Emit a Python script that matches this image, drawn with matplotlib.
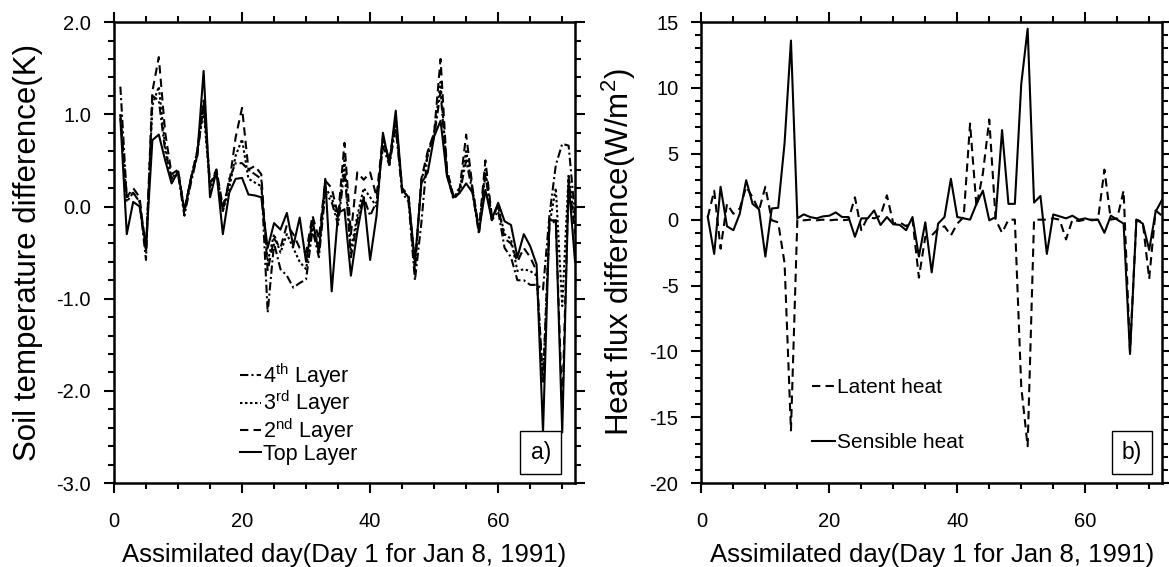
import numpy as np
import matplotlib
matplotlib.use("Agg")
import matplotlib.pyplot as plt
from matplotlib.ticker import MultipleLocator, FormatStrFormatter

plt.rcParams['font.family'] = ['Liberation Sans', 'DejaVu Sans']
plt.rcParams['mathtext.fontset'] = 'custom'
plt.rcParams['mathtext.rm'] = 'Liberation Sans'
plt.rcParams['axes.unicode_minus'] = False

days = np.arange(1, 73)

# soil temperature difference (K), panel a)
top_layer = [0.95, -0.30, 0.05, 0.00, -0.43, 0.72, 0.78, 0.50, 0.25, 0.38,
             -0.05, 0.30, 0.55, 1.47, 0.10, 0.38, -0.30, 0.15, 0.30, 0.31,
             0.13, 0.12, 0.10, -0.45, -0.18, -0.25, -0.07, -0.43, -0.12, -0.60,
             -0.15, -0.50, 0.30, -0.92, -0.07, -0.03, -0.75, -0.27, 0.10, -0.58,
             -0.10, 0.80, 0.45, 1.04, 0.18, 0.10, -0.60, 0.25, 0.37, 0.76,
             0.93, 0.33, 0.10, 0.15, 0.25, 0.15, -0.27, 0.18, -0.14, 0.04,
             -0.16, -0.20, -0.55, -0.30, -0.43, -0.63, -2.45, -0.15, -0.15, -2.45,
             0.26, -0.60]
layer2 = [1.00, 0.10, 0.20, 0.10, -0.50, 1.25, 1.62, 0.80, 0.35, 0.40,
          -0.05, 0.30, 0.60, 1.15, 0.25, 0.40, 0.00, 0.25, 0.75, 1.07,
          0.40, 0.44, 0.35, -0.70, -0.35, -0.45, -0.20, -0.30, -0.45, -0.50,
          -0.10, -0.35, 0.28, 0.20, -0.10, 0.69, -0.30, 0.37, 0.29, 0.37,
          0.11, 0.75, 0.50, 0.95, 0.20, 0.12, -0.70, 0.30, 0.60, 0.80,
          1.60, 0.40, 0.12, 0.20, 0.78, 0.20, -0.25, 0.50, -0.10, 0.00,
          -0.35, -0.40, -0.60, -0.45, -0.55, -0.70, -1.90, -0.20, -0.15, -2.20,
          0.30, -0.30]
layer3 = [1.00, 0.05, 0.15, 0.05, -0.45, 1.10, 1.30, 0.65, 0.30, 0.40,
          -0.05, 0.30, 0.60, 1.05, 0.20, 0.40, -0.05, 0.20, 0.55, 0.73,
          0.30, 0.26, 0.22, -0.60, -0.30, -0.50, -0.30, -0.45, -0.60, -0.68,
          -0.20, -0.45, 0.20, 0.10, -0.15, 0.50, -0.47, -0.10, 0.20, 0.10,
          0.00, 0.70, 0.50, 0.90, 0.18, 0.10, -0.65, 0.28, 0.55, 0.80,
          1.35, 0.38, 0.10, 0.18, 0.60, 0.18, -0.25, 0.40, -0.12, 0.00,
          -0.30, -0.35, -0.70, -0.68, -0.70, -0.75, -1.90, -0.20, 0.20, -1.08,
          0.35, -0.20]
layer4 = [1.30, 0.10, 0.15, 0.05, -0.58, 1.20, 1.15, 0.60, 0.30, 0.35,
          -0.10, 0.25, 0.55, 1.10, 0.25, 0.35, -0.05, 0.30, 0.47, 0.47,
          0.40, 0.35, 0.30, -1.15, -0.40, -0.68, -0.75, -0.88, -0.83, -0.79,
          -0.25, -0.55, 0.15, 0.05, -0.20, 0.40, -0.55, -0.15, 0.10, -0.10,
          0.05, 0.65, 0.45, 0.85, 0.15, 0.05, -0.80, -0.18, 0.60, 0.75,
          1.25, 0.35, 0.08, 0.15, 0.50, 0.15, -0.30, 0.35, -0.15, -0.05,
          -0.45, -0.55, -0.80, -0.80, -0.85, -0.85, -0.90, -0.10, 0.45, 0.68,
          0.66, -0.10]

# heat flux difference (W/m2), panel b)
sensible = [0.2, -2.6, 2.5, -0.5, -0.8, 0.45, 3.0, 1.2, 0.8, -2.8,
            0.85, 0.9, 5.8, 13.6, 0.1, 0.4, 0.2, 0.1, 0.25, 0.3,
            0.55, 0.2, 0.2, -1.3, 0.1, 0.1, 0.7, -0.4, 0.2, -0.35,
            -0.4, -0.8, 0.2, -2.8, -0.2, -4.0, -0.3, 0.2, 3.1, 0.2,
            0.1, 0.0, 1.2, 2.2, -0.05, 0.2, 6.8, 1.2, 1.2, 10.3,
            14.5, 1.3, 1.8, -2.6, 0.4, 0.25, 0.1, 0.3, 0.0, 0.1,
            -0.05, 0.0, -1.0, 0.3, 0.0, -0.3, -10.2, 0.0, -0.3, -2.3,
            0.6, 1.5]
latent = [0.2, 2.2, -2.2, 1.2, 0.45, 0.85, 2.5, 1.7, 0.7, 2.5,
          -0.05, -0.2, -3.3, -16.0, 0.0, -0.05, 0.0, -0.05, 0.0, -0.05,
          0.0, -0.05, 0.0, 1.7, -0.8, 0.2, 0.1, 0.3, 1.85, -0.3,
          -0.2, -0.5, 0.0, -4.4, -1.3, -1.2, -0.7, -0.5, -1.2, -0.3,
          0.2, 7.3, 1.0, 3.5, 7.6, 0.0, -1.0, 0.0, 0.0, -12.7,
          -17.2, 0.0, 0.0, 0.0, 0.1, 0.0, -1.5, 0.0, -0.1, 0.0,
          0.0, 0.0, 3.8, 0.0, 0.1, 2.2, -10.0, 0.0, -0.2, -4.5,
          0.7, 0.3]

fig = plt.figure(figsize=(11.69, 5.67), dpi=100)
ax1 = fig.add_axes([0.0975, 0.148, 0.3944, 0.813])
ax2 = fig.add_axes([0.600, 0.148, 0.394, 0.813])

lw = 1.5
ax1.plot(days, layer4, color='black', lw=lw, dashes=(4, 1.5, 1, 1.5), label='4$^{\\rm th}$ Layer')
ax1.plot(days, layer3, color='black', lw=lw, dashes=(1.2, 1.2), label='3$^{\\rm rd}$ Layer')
ax1.plot(days, layer2, color='black', lw=lw, dashes=(4, 2.5), label='2$^{\\rm nd}$ Layer')
ax1.plot(days, top_layer, color='black', lw=lw, label='Top Layer')

ax2.plot(days, latent, color='black', lw=lw, dashes=(4, 2.5), label='Latent heat')
ax2.plot(days, sensible, color='black', lw=lw, label='Sensible heat')

for ax in (ax1, ax2):
    ax.set_xlim(0, 72)
    ax.xaxis.set_major_locator(MultipleLocator(20))
    ax.xaxis.set_minor_locator(MultipleLocator(5))
    ax.tick_params(which='both', direction='out', top=True, right=True,
                   labelsize=14.5, width=1.5, colors='black')
    ax.tick_params(which='major', length=7.5)
    ax.tick_params(which='minor', length=4)
    ax.tick_params(axis='x', which='major', pad=13)
    ax.tick_params(axis='y', which='major', pad=9)
    for s in ax.spines.values():
        s.set_linewidth(1.8)
    ax.set_xlabel('Assimilated day(Day 1 for Jan 8, 1991)', fontsize=18.5, labelpad=9)

ax1.set_ylim(-3.0, 2.0)
ax1.yaxis.set_major_locator(MultipleLocator(1.0))
ax1.yaxis.set_minor_locator(MultipleLocator(0.2))
ax1.yaxis.set_major_formatter(FormatStrFormatter('%.1f'))
ax1.set_ylabel('Soil temperature difference(K)', fontsize=22.5, labelpad=10)

ax2.set_ylim(-20, 15)
ax2.yaxis.set_major_locator(MultipleLocator(5))
ax2.yaxis.set_minor_locator(MultipleLocator(1))
ax2.set_ylabel('Heat flux difference(W/m$^{\\rm 2}$)', fontsize=22.5, labelpad=8)

ax1.legend(loc='upper left', bbox_to_anchor=(0.255, 0.283), frameon=False,
           fontsize=15.5, handlelength=0.95, handletextpad=0.1, labelspacing=-0.05,
           borderaxespad=0)
ax2.legend(loc='upper left', bbox_to_anchor=(0.222, 0.245), frameon=False,
           fontsize=15, handlelength=1.1, handletextpad=0.1, labelspacing=1.7,
           borderaxespad=0)

box = dict(boxstyle='square,pad=0.45', fc='white', ec='black', lw=1)
ax1.text(0.948, 0.041, 'a)', transform=ax1.transAxes, ha='right', va='bottom',
         fontsize=16.5, bbox=box)
ax2.text(0.957, 0.041, 'b)', transform=ax2.transAxes, ha='right', va='bottom',
         fontsize=16.5, bbox=box)

fig.savefig('out.png', dpi=100)
